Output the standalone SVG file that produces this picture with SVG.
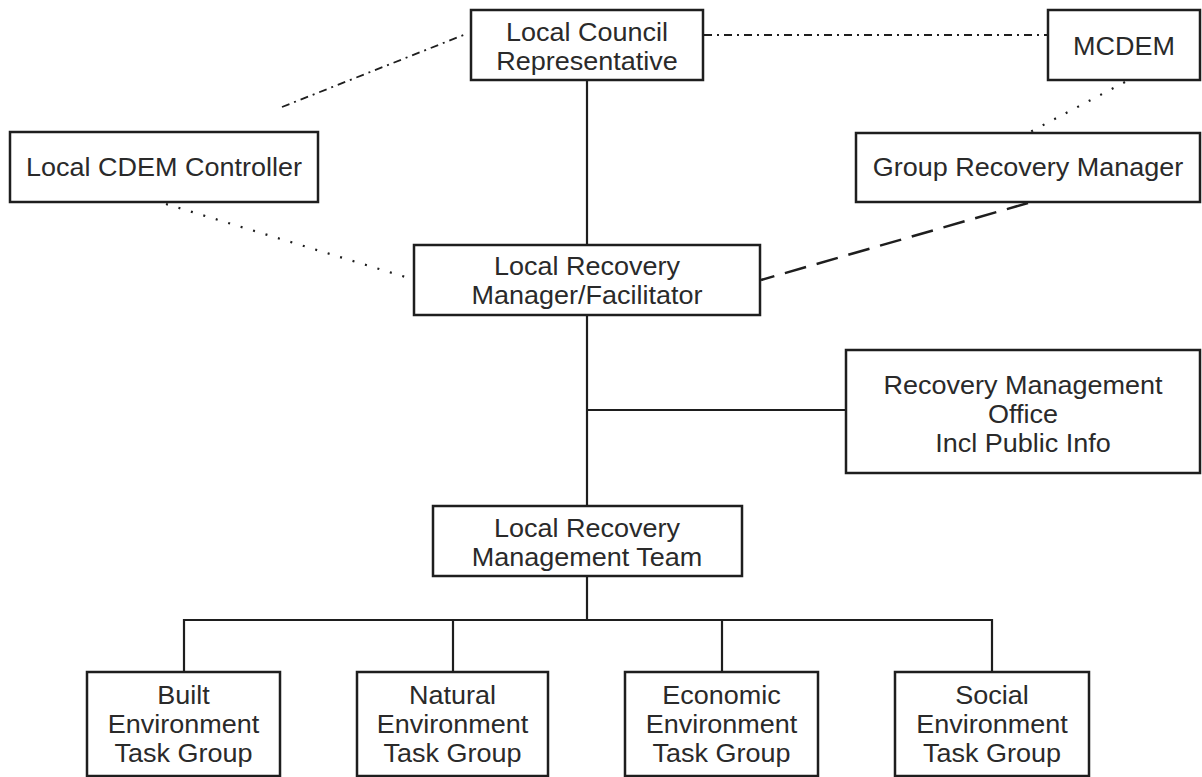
<svg xmlns="http://www.w3.org/2000/svg" width="1202" height="777" viewBox="0 0 1202 777">
<style>
.box{fill:#fff;stroke:#1e1e1e;stroke-width:2.5}
.t{font-family:"Liberation Sans",Arial,sans-serif;font-size:25px;fill:#2a2a2a;text-anchor:middle}
.solid{fill:none;stroke:#1e1e1e;stroke-width:2.2}
.dashdot{fill:none;stroke:#1e1e1e;stroke-width:1.8;stroke-dasharray:8 5 2 5}
.dot{fill:none;stroke:#1e1e1e;stroke-width:2.2;stroke-dasharray:2 11}
.dash{fill:none;stroke:#1e1e1e;stroke-width:2.5;stroke-dasharray:22 11}
</style>
<rect width="1202" height="777" fill="#fff"/>
<g id="connectors">
<line class="dashdot" x1="282" y1="107" x2="466" y2="34"/>
<line class="dashdot" x1="704" y1="35" x2="1047" y2="35"/>
<line class="dot" x1="1125" y1="82" x2="1030" y2="132"/>
<line class="dot" x1="166" y1="204" x2="412" y2="279"/>
<line class="dash" x1="1028" y1="203" x2="761" y2="280"/>
<polyline class="solid" points="587,80 587,245"/>
<polyline class="solid" points="587,315 587,506"/>
<polyline class="solid" points="587,410 846,410"/>
<polyline class="solid" points="587,576 587,620"/>
<polyline class="solid" points="184,672 184,620 992,620 992,672"/>
<polyline class="solid" points="453,620 453,672"/>
<polyline class="solid" points="722,620 722,672"/>
</g>
<g id="local-council">
<rect class="box" x="471" y="10" width="232" height="70"/>
<text class="t" transform="translate(587,41) scale(1.08,1)">Local Council</text>
<text class="t" transform="translate(587,70) scale(1.08,1)">Representative</text>
</g>
<g id="mcdem">
<rect class="box" x="1048" y="10" width="152" height="70"/>
<text class="t" transform="translate(1124,55) scale(1.08,1)">MCDEM</text>
</g>
<g id="local-cdem-controller">
<rect class="box" x="10" y="132" width="308" height="70"/>
<text class="t" transform="translate(164,176) scale(1.08,1)">Local CDEM Controller</text>
</g>
<g id="group-recovery-manager">
<rect class="box" x="856" y="133" width="344" height="69"/>
<text class="t" transform="translate(1028,176) scale(1.08,1)">Group Recovery Manager</text>
</g>
<g id="local-recovery-manager">
<rect class="box" x="414" y="245" width="346" height="70"/>
<text class="t" transform="translate(587,275) scale(1.08,1)">Local Recovery</text>
<text class="t" transform="translate(587,304) scale(1.08,1)">Manager/Facilitator</text>
</g>
<g id="recovery-management-office">
<rect class="box" x="846" y="350" width="354" height="123"/>
<text class="t" transform="translate(1023,394) scale(1.08,1)">Recovery Management</text>
<text class="t" transform="translate(1023,423) scale(1.08,1)">Office</text>
<text class="t" transform="translate(1023,452) scale(1.08,1)">Incl Public Info</text>
</g>
<g id="local-recovery-management-team">
<rect class="box" x="433" y="506" width="309" height="70"/>
<text class="t" transform="translate(587,537) scale(1.08,1)">Local Recovery</text>
<text class="t" transform="translate(587,566) scale(1.08,1)">Management Team</text>
</g>
<g id="built-environment">
<rect class="box" x="87" y="672" width="193" height="104"/>
<text class="t" transform="translate(183.5,704) scale(1.08,1)">Built</text>
<text class="t" transform="translate(183.5,733) scale(1.08,1)">Environment</text>
<text class="t" transform="translate(183.5,762) scale(1.08,1)">Task Group</text>
</g>
<g id="natural-environment">
<rect class="box" x="357" y="672" width="191" height="104"/>
<text class="t" transform="translate(452.5,704) scale(1.08,1)">Natural</text>
<text class="t" transform="translate(452.5,733) scale(1.08,1)">Environment</text>
<text class="t" transform="translate(452.5,762) scale(1.08,1)">Task Group</text>
</g>
<g id="economic-environment">
<rect class="box" x="625" y="672" width="193" height="104"/>
<text class="t" transform="translate(721.5,704) scale(1.08,1)">Economic</text>
<text class="t" transform="translate(721.5,733) scale(1.08,1)">Environment</text>
<text class="t" transform="translate(721.5,762) scale(1.08,1)">Task Group</text>
</g>
<g id="social-environment">
<rect class="box" x="895" y="672" width="194" height="104"/>
<text class="t" transform="translate(992,704) scale(1.08,1)">Social</text>
<text class="t" transform="translate(992,733) scale(1.08,1)">Environment</text>
<text class="t" transform="translate(992,762) scale(1.08,1)">Task Group</text>
</g>
</svg>
